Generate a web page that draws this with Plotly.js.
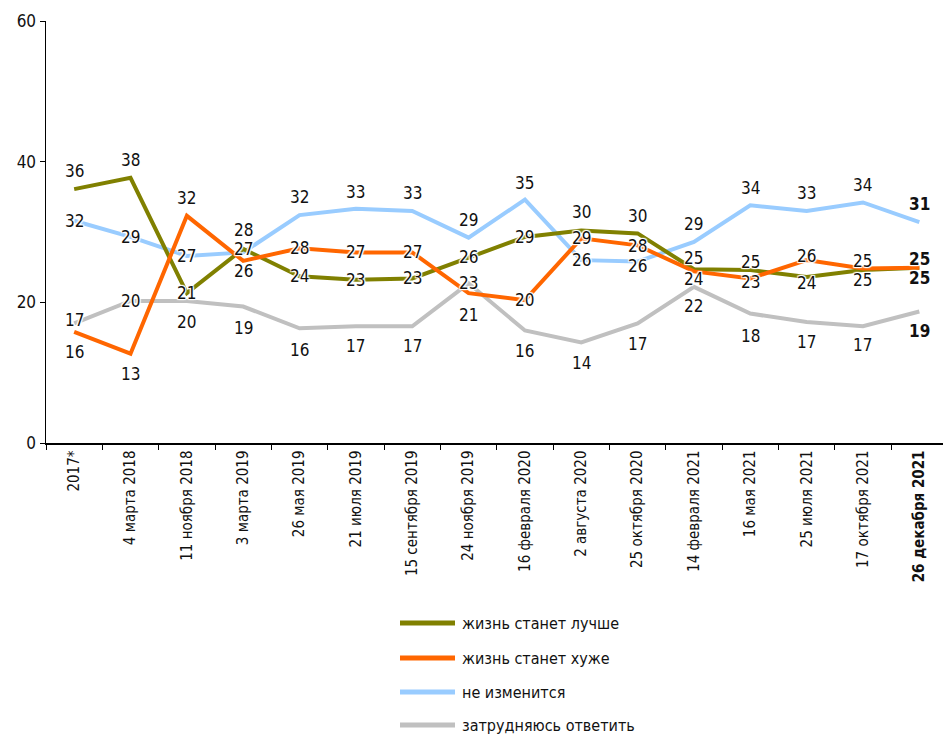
<!DOCTYPE html>
<html><head><meta charset="utf-8">
<script src="https://cdn.plot.ly/plotly-3.0.1.min.js"></script>
<style>html,body{margin:0;padding:0;background:#fff}#chart{width:943px;height:737px}</style>
</head><body><div id="chart"></div>
<script>
var categories = ["2017*", "4 марта 2018", "11 ноября 2018", "3 марта 2019", "26 мая 2019", "21 июля 2019",
  "15 сентября 2019", "24 ноября 2019", "16 февраля 2020", "2 августа 2020", "25 октября 2020",
  "14 февраля 2021", "16 мая 2021", "25 июля 2021", "17 октября 2021", "26 декабря 2021"];
var seriesNames = ["жизнь станет лучше", "жизнь станет хуже", "не изменится", "затрудняюсь ответить"];
var better  = [36.1, 37.7, 21.3, 27.6, 23.7, 23.2, 23.4, 26.4, 29.3, 30.2, 29.8, 24.7, 24.6, 23.6, 24.6, 24.9];
var worse   = [15.8, 12.7, 32.3, 25.9, 27.7, 27.1, 27.1, 21.3, 20.3, 29.1, 28.1, 24.4, 23.4, 26.0, 24.8, 24.9];
var nochange= [31.6, 29.3, 26.6, 27.1, 32.4, 33.3, 33.0, 29.2, 34.6, 26.0, 25.8, 28.6, 33.8, 33.0, 34.2, 31.4];
var unsure  = [17.0, 20.2, 20.2, 19.4, 16.3, 16.6, 16.6, 22.7, 16.0, 14.3, 17.0, 22.2, 18.4, 17.2, 16.6, 18.7];
var yTicks = [0, 20, 40, 60];

// label placement offsets (pixels, positive = up)
var shiftBetter   = [18, 18, 0, 19, 0, 0, 0, 0, 0, 19, 17, 11, 8, -6, -10, -10];
var shiftWorse    = [-20, -20, 18, -10, 0, 0, 0, -22, 0, 0, -1, -8, -4, 4, 8, 9];
var shiftNochange = [0, 0, 0, 3, 18, 17, 18, 18, 17, 0, -4, 18, 17, 18, 17, 18];
var shiftUnsure   = [3, 0, -21, -21, -22, -20, -20, 0, -21, -21, -21, -19, -22, -20, -19, -20];

var FONT = "'Liberation Sans Narrow', 'DejaVu Sans Condensed', Roboto, sans-serif";
var colors = ["#808000", "#ff6600", "#99ccff", "#c0c0c0"];
var allSeries = [better, worse, nochange, unsure];
var allShifts = [shiftBetter, shiftWorse, shiftNochange, shiftUnsure];
var drawOrder = [3, 2, 0, 1];

var W = 943, H = 737, ML = 46, MR = 0, MT = 21, MB = 294;
function pxX(px) { return (px - ML) / (W - ML - MR); }
function pxY(py) { return (H - MB - py) / (H - MT - MB); }

var traces = drawOrder.map(function (i) {
  return {
    type: "scatter", mode: "lines", x: categories, y: allSeries[i], name: seriesNames[i],
    line: { color: colors[i], width: 4 }, showlegend: false, hoverinfo: "skip"
  };
});

var halo = "1px 1px 1px #fff, -1px -1px 1px #fff, 1px -1px 1px #fff, -1px 1px 1px #fff, 0 0 2px #fff";
var annotations = [];
drawOrder.forEach(function (i) {
  allSeries[i].forEach(function (v, k) {
    var t = String(Math.round(v));
    if (k === categories.length - 1) t = "<b>" + t + "</b>";
    annotations.push({
      x: categories[k], y: v, xref: "x", yref: "y", text: t, showarrow: false,
      yshift: allShifts[i][k], font: { family: FONT, size: 17, color: "#111", shadow: halo }
    });
  });
});

// manual legend
var legendRowsPx = [623, 658, 692, 725];
var shapes = [];
seriesNames.forEach(function (name, i) {
  var y = pxY(legendRowsPx[i]);
  shapes.push({ type: "line", xref: "paper", yref: "paper", x0: pxX(400), x1: pxX(455), y0: y, y1: y,
    line: { color: colors[i], width: 5 } });
  annotations.push({ xref: "paper", yref: "paper", x: pxX(461), y: y, xanchor: "left", yanchor: "middle",
    text: name, showarrow: false, borderpad: 0, font: { family: FONT, size: 16, color: "#111" } });
});

var tickText = categories.map(function (c, k) { return k === categories.length - 1 ? "<b>" + c + "</b>" : c; });

var layout = {
  width: W, height: H,
  margin: { l: ML, r: MR, t: MT, b: MB },
  paper_bgcolor: "#fff", plot_bgcolor: "#fff",
  font: { family: FONT, color: "#111" },
  showlegend: false,
  xaxis: {
    type: "category", range: [-0.5, 15.42], tickmode: "array", tickvals: categories, ticktext: tickText,
    tickangle: -90, tickson: "boundaries", ticks: "outside", ticklen: 5, tickcolor: "#000",
    showline: true, linecolor: "#000", linewidth: 1.5, showgrid: false, zeroline: false,
    tickfont: { family: FONT, size: 15, color: "#111" }, fixedrange: true
  },
  yaxis: {
    range: [0, 60], tickmode: "array", tickvals: yTicks, ticks: "outside", ticklen: 5, tickcolor: "#000",
    showline: true, linecolor: "#000", linewidth: 1.5, showgrid: false, zeroline: false,
    tickfont: { family: FONT, size: 17, color: "#111" }, fixedrange: true
  },
  shapes: shapes,
  annotations: annotations
};

Plotly.newPlot("chart", traces, layout, { displayModeBar: false, staticPlot: true });
</script>
</body></html>
